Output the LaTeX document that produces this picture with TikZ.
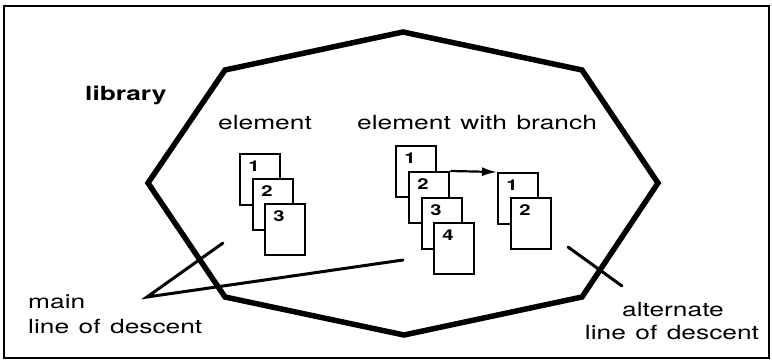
\documentclass[tikz,border=0pt]{standalone}
\usepackage{fontspec}
\setmainfont[FakeStretch=1.35,WordSpace=1.3]{TeX Gyre Heros}
\usetikzlibrary{arrows.meta}
\begin{document}
\begin{tikzpicture}[x=1pt,y=-1pt,
  label/.style={inner sep=0pt,font=\fontsize{19.5}{22}\selectfont},
  page/.style={draw,fill=white,line width=2.4pt,minimum width=40pt,minimum height=51pt,inner sep=0pt},
  num/.style={inner sep=0pt,font=\fontsize{15}{16}\selectfont\bfseries},
  boundary/.style={line width=5.5pt,line join=miter},
  pointer/.style={line width=3pt,line cap=round},
  branch/.style={line width=2.2pt,-{Latex[length=15pt,width=9pt]}}]
\useasboundingbox (0,0) rectangle (772,361);
% outer frame
\draw[line width=2pt] (4,6) rectangle (769,358);
% library boundary
\draw[boundary] (403,32) -- (582,70) -- (658,183) -- (582,297) -- (404,335)
  -- (225,297) -- (148,183) -- (225,70) -- cycle;
% headings
\node[label,anchor=base west,font=\fontsize{19.5}{22}\selectfont\bfseries] (lib) at (85,101) {library};
\node[label,anchor=base west] (el) at (218,129) {element};
\node[label,anchor=base west] (elb) at (357,129) {element with branch};
% simple element: pages 1-3
\foreach \i/\x/\y in {1/239/153, 2/252/178, 3/264/203}{
  \node[page,anchor=north west] (a\i) at (\x,\y) {};
  \node[num] (na\i) at (\x+15,\y+13) {\i};
}
% element with branch: main stack 1-4
\foreach \i/\x/\y in {1/395/145, 2/408/171, 3/421/197, 4/433/222}{
  \node[page,anchor=north west] (b\i) at (\x,\y) {};
  \node[num] (nb\i) at (\x+15,\y+13) {\i};
}
% branch stack 1-2
\foreach \i/\x/\y in {1/497/172, 2/510/197}{
  \node[page,anchor=north west] (c\i) at (\x,\y) {};
  \node[num] (nc\i) at (\x+15,\y+13) {\i};
}
\draw[branch] (b2.north east) -- (c1.north west);
% lines of descent
\node[label,anchor=base west] (main1) at (28,308) {main};
\node[label,anchor=base west] (main2) at (28,333) {line of descent};
\node[label,anchor=base] (alt1) at (673,316) {alternate};
\node[label,anchor=base] (alt2) at (672,339) {line of descent};
\coordinate (apex) at (147,297);
\coordinate (m1) at (223,243);
\coordinate (m2) at (403,260);
\coordinate (t1) at (568,247);
\coordinate (t2) at (622,286);
\draw[pointer] (m1) -- (apex) -- (m2);
\draw[pointer] (t1) -- (t2);
\end{tikzpicture}
\end{document}
